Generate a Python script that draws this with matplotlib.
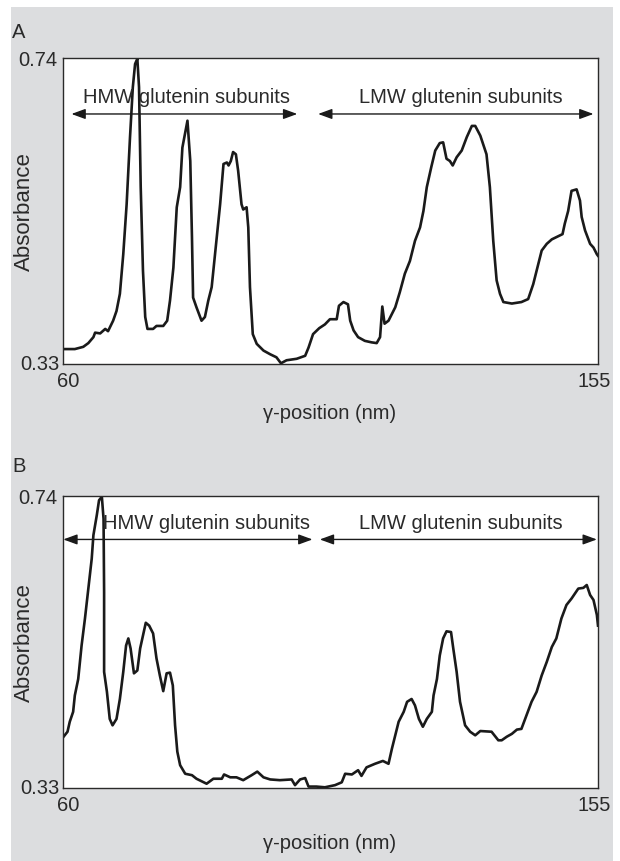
import matplotlib
matplotlib.use("Agg")
import matplotlib.pyplot as plt
from matplotlib import font_manager
from matplotlib.patches import Rectangle

# the original uses a condensed Helvetica; use the narrow Liberation face if there is one
names = {f.name for f in font_manager.fontManager.ttflist}
if 'Liberation Sans Narrow' in names:
    plt.rcParams['font.family'] = ['Liberation Sans Narrow', 'DejaVu Sans']
    fs, fs_lab = 16, 18
else:
    plt.rcParams['font.family'] = ['Liberation Sans', 'DejaVu Sans']
    fs, fs_lab = 14.5, 16

# densitometer traces
# panel A
a_pos = [60.0, 62.1, 63.6, 64.5, 65.4, 65.7, 66.6, 67.5, 68.0, 68.9, 69.5, 70.1,
         70.7, 71.3, 71.9, 72.4, 72.8, 73.2, 73.5, 73.8, 74.2, 74.6, 75.0, 76.0,
         76.6, 77.8, 78.5, 79.0, 79.6, 80.2, 80.8, 81.2, 81.7, 82.1, 82.6, 82.9,
         83.1, 83.7, 84.6, 85.2, 85.8, 86.4, 87.0, 87.9, 88.5, 89.1, 89.4, 89.8,
         90.2, 90.7, 91.1, 91.7, 92.0, 92.6, 92.9, 93.2, 93.7, 94.4, 95.6, 96.8,
         97.9, 98.7, 99.7, 101.5, 103.0, 103.6, 104.4, 105.5, 106.5, 107.4, 108.6,
         109.0, 109.8, 110.6, 111.0, 111.6, 112.4, 113.6, 114.8, 115.7, 116.3,
         116.7, 117.1, 117.8, 119.0, 119.8, 120.7, 121.6, 122.5, 123.4, 124.0,
         124.6, 125.4, 126.1, 126.9, 127.5, 128.1, 128.7, 129.2, 129.9, 130.8,
         131.7, 132.6, 133.2, 134.1, 135.2, 135.8, 136.4, 137.0, 137.6, 138.2,
         139.7, 141.4, 142.6, 143.5, 144.4, 145.0, 145.9, 146.8, 147.9, 148.7,
         149.1, 149.7, 150.3, 151.2, 151.8, 152.1, 152.7, 153.6, 154.2, 154.8, 155.0]
a_abs = [0.350, 0.350, 0.353, 0.358, 0.366, 0.372, 0.371, 0.377, 0.374, 0.388, 0.401, 0.424,
         0.477, 0.544, 0.634, 0.701, 0.732, 0.739, 0.701, 0.567, 0.455, 0.393, 0.377, 0.377,
         0.381, 0.381, 0.388, 0.415, 0.459, 0.540, 0.567, 0.620, 0.640, 0.656, 0.602, 0.500,
         0.419, 0.406, 0.388, 0.393, 0.415, 0.433, 0.477, 0.544, 0.598, 0.600, 0.596, 0.602,
         0.614, 0.611, 0.589, 0.544, 0.537, 0.540, 0.513, 0.433, 0.370, 0.357, 0.348, 0.343,
         0.339, 0.331, 0.335, 0.337, 0.341, 0.352, 0.370, 0.378, 0.383, 0.390, 0.390,
         0.408, 0.413, 0.410, 0.388, 0.375, 0.366, 0.361, 0.359, 0.358, 0.366,
         0.407, 0.384, 0.388, 0.406, 0.426, 0.451, 0.468, 0.495, 0.513, 0.535,
         0.567, 0.594, 0.616, 0.626, 0.627, 0.605, 0.602, 0.596, 0.607, 0.616,
         0.634, 0.649, 0.649, 0.636, 0.611, 0.567, 0.495, 0.442, 0.424, 0.413,
         0.411, 0.413, 0.417, 0.437, 0.464, 0.482, 0.491, 0.497, 0.501, 0.504,
         0.518, 0.535, 0.562, 0.564, 0.549, 0.527, 0.509, 0.491, 0.486, 0.477, 0.475]

# panel B
b_pos = [60.1, 60.8, 61.2, 61.8, 62.1, 62.7, 63.3, 63.9, 64.5, 65.1, 65.4, 66.0,
         66.4, 66.9, 67.2, 67.3, 67.3, 67.8, 68.3, 68.8, 69.5, 70.1, 70.7, 71.2,
         71.6, 72.0, 72.6, 73.2, 73.7, 74.2, 74.7, 75.3, 76.0, 76.6, 77.2, 77.8,
         78.4, 79.0, 79.5, 79.9, 80.3, 80.8, 81.7, 82.9, 83.7, 85.5, 86.7, 88.2,
         88.6, 89.7, 90.8, 92.0, 93.5, 94.5, 95.6, 96.8, 98.5, 100.6, 101.2, 102.1,
         103.0, 103.6, 105.0, 106.5, 108.3, 109.5, 110.1, 111.3, 112.4, 113.0,
         113.9, 115.4, 116.8, 117.8, 118.4, 119.0, 119.6, 120.5, 121.1, 121.9,
         122.5, 123.2, 123.9, 124.6, 125.5, 125.8, 126.4, 126.9, 127.5, 128.1,
         128.9, 129.3, 129.9, 130.5, 131.4, 132.3, 133.2, 134.1, 136.1, 137.3,
         137.9, 138.8, 139.7, 140.6, 141.4, 142.3, 143.2, 144.1, 145.0, 145.9,
         146.8, 147.6, 148.5, 149.4, 150.3, 151.5, 152.4, 153.0, 153.6, 154.2,
         154.8, 155.0]
b_abs = [0.402, 0.409, 0.423, 0.437, 0.460, 0.483, 0.530, 0.568, 0.610, 0.652, 0.685, 0.713,
         0.734, 0.739, 0.708, 0.605, 0.493, 0.465, 0.427, 0.418, 0.427, 0.455, 0.493, 0.530,
         0.540, 0.526, 0.491, 0.495, 0.526, 0.544, 0.562, 0.558, 0.547, 0.512, 0.488, 0.466,
         0.491, 0.492, 0.474, 0.418, 0.381, 0.362, 0.350, 0.348, 0.343, 0.336, 0.343, 0.343,
         0.349, 0.345, 0.345, 0.341, 0.348, 0.353, 0.345, 0.342, 0.341, 0.342, 0.334, 0.342,
         0.344, 0.332, 0.332, 0.331, 0.334, 0.338, 0.350, 0.349, 0.355, 0.347,
         0.359, 0.364, 0.368, 0.364, 0.385, 0.404, 0.423, 0.437, 0.451, 0.455,
         0.446, 0.427, 0.416, 0.427, 0.437, 0.460, 0.483, 0.516, 0.540, 0.550,
         0.549, 0.526, 0.493, 0.451, 0.418, 0.409, 0.404, 0.410, 0.409, 0.397,
         0.397, 0.402, 0.406, 0.412, 0.413, 0.432, 0.451, 0.465, 0.488, 0.507,
         0.528, 0.540, 0.568, 0.587, 0.596, 0.610, 0.611, 0.615, 0.601, 0.594,
         0.573, 0.558]

x_lim = [60, 155]
y_lim = [0.33, 0.74]
band_names = ["HMW glutenin subunits", "LMW glutenin subunits"]

txt = '#2a2a2a'
fig = plt.figure(figsize=(6.2, 8.62), dpi=100)
fig.patches.append(Rectangle((11 / 620, 0), 602 / 620, 854 / 862,
                             transform=fig.transFigure, facecolor='#dcdddf',
                             edgecolor='none', zorder=-10))


def panel(bottom, height, pos, vals, letter, letter_y, xlab_y, arrows, arrow_y, text_x, text_y):
    ax = fig.add_axes([63 / 620, bottom, 535 / 620, height])
    ax.set_facecolor('white')
    ax.plot(pos, vals, color='#1a1a1a', lw=1.9, solid_joinstyle='round')
    ax.set_xlim(x_lim)
    ax.set_ylim(y_lim)
    ax.set_xticks([])
    ax.set_yticks([])
    for s in ax.spines.values():
        s.set_color('#2a2a2a')
        s.set_linewidth(1.0)

    # axis end values
    ax.annotate("0.74", (x_lim[0], y_lim[1]), xytext=(-4, -1), textcoords='offset points',
                ha='right', va='center', fontsize=fs, color=txt)
    ax.annotate("0.33", (x_lim[0], y_lim[0]), xytext=(-2.5, 0), textcoords='offset points',
                ha='right', va='center', fontsize=fs, color=txt)
    ax.annotate("60", (x_lim[0], y_lim[0]), xytext=(3.5, -5), textcoords='offset points',
                ha='center', va='top', fontsize=fs, color=txt)
    ax.annotate("155", (x_lim[1], y_lim[0]), xytext=(-3, -5), textcoords='offset points',
                ha='center', va='top', fontsize=fs, color=txt)

    for (x0, x1), name, tx in zip(arrows, band_names, text_x):
        ax.annotate('', xy=(x1, arrow_y), xytext=(x0, arrow_y),
                    arrowprops=dict(arrowstyle='<|-|>,head_length=0.6,head_width=0.22',
                                    color='#1a1a1a', lw=1.0, mutation_scale=14,
                                    shrinkA=0, shrinkB=0))
        ax.text(tx, text_y, name, ha='center', va='center', fontsize=fs, color=txt)

    fig.text(19 / 620, 1 - letter_y / 862, letter, ha='center', va='center', fontsize=fs, color=txt)
    fig.text(330 / 620, 1 - xlab_y / 862, "γ-position (nm)", ha='center', va='center',
             fontsize=fs, color=txt)
    ymid = bottom + height / 2
    fig.text(24 / 620, ymid, "Absorbance", rotation=90, ha='center', va='center',
             fontsize=fs_lab, color=txt)
    return ax


panel(1 - 365 / 862, 306 / 862, a_pos, a_abs, "A", 33, 414,
      [(61.5, 101.6), (105.3, 154.2)], 0.665, [81.9, 130.7], 0.689)
panel(1 - 789 / 862, 292 / 862, b_pos, b_abs, "B", 466, 844,
      [(60.05, 104.3), (105.6, 154.8)], 0.679, [85.4, 130.7], 0.703)

fig.savefig("out.png", dpi=100)
